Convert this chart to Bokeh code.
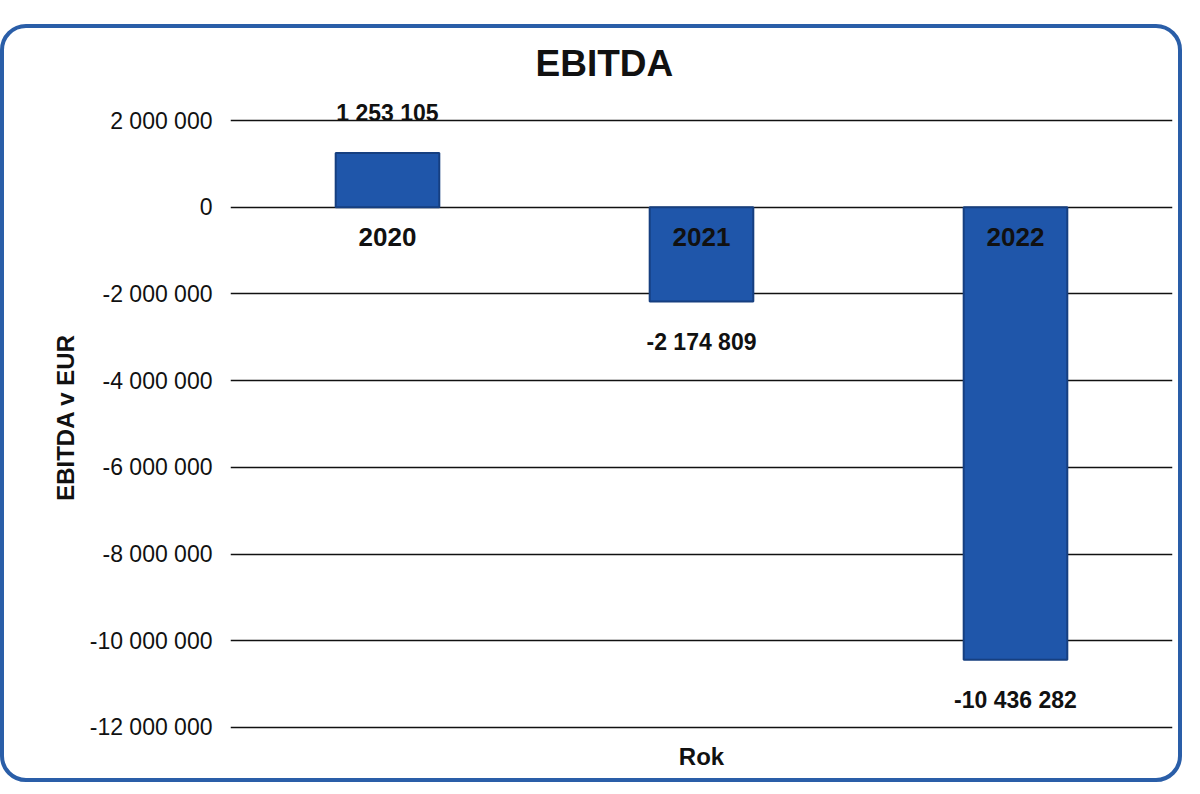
from bokeh.plotting import figure
from bokeh.models import ColumnDataSource, SingleIntervalTicker, CustomJSTickFormatter, LinearAxis, FixedTicker
from bokeh.embed import file_html
from bokeh.resources import INLINE
from bokeh.core.properties import value

years = ["2020", "2021", "2022"]
ebitda = [1253105, -2174809, -10436282]
value_labels = ["1 253 105", "-2 174 809", "-10 436 282"]

src = ColumnDataSource(dict(
    year=years, val=ebitda, zero=[0] * 3, vlab=value_labels,
    voff=[-40 if v > 0 else 40 for v in ebitda],
))

p = figure(x_range=years, y_range=(-12300000, 2600000), width=1182, height=758,
           output_backend="svg", toolbar_location=None, x_axis_type=None,
           min_border_left=226, min_border_right=14, min_border_top=66, min_border_bottom=46)
p.styles = {"border": "4px solid #2a5ea8", "border-radius": "26px", "margin-top": "24px",
            "background": "white"}
p.outline_line_color = None
p.background_fill_color = "white"
p.border_fill_color = None

p.title.text = "EBITDA"
p.title.align = "left"
p.title.offset = 305
p.title.text_font = "Liberation Sans"
p.title.text_font_style = "bold"
p.title.text_font_size = "37px"
p.title.text_color = "#111111"
p.title.standoff = 22

p.vbar(x="year", top="val", bottom="zero", width=0.33, source=src,
       fill_color="#1f56aa", line_color="#163f80", line_width=2)

p.text(x="year", y="zero", text="year", source=src, y_offset=30,
       text_align="center", text_baseline="middle", text_font=value("Liberation Sans"),
       text_font_style="bold", text_font_size="26px", text_color="#111111")
p.text(x="year", y="val", text="vlab", source=src, y_offset="voff",
       text_align="center", text_baseline="middle", text_font=value("Liberation Sans"),
       text_font_style="bold", text_font_size="23px", text_color="#111111")

p.yaxis.ticker = SingleIntervalTicker(interval=2000000)
p.yaxis.formatter = CustomJSTickFormatter(code="""
var s = Math.abs(tick).toFixed(0).replace(/\\B(?=(\\d{3})+(?!\\d))/g, ' ');
return (tick < 0 ? '-' : '') + s;
""")
p.yaxis.axis_line_color = None
p.yaxis.major_tick_line_color = None
p.yaxis.minor_tick_line_color = None
p.yaxis.major_tick_out = 0
p.yaxis.major_label_standoff = 14
p.yaxis.major_label_text_font = "Liberation Sans"
p.yaxis.major_label_text_font_size = "23px"
p.yaxis.major_label_text_color = "#111111"
p.yaxis.axis_label = "EBITDA v EUR"
p.yaxis.axis_label_text_font = "Liberation Sans"
p.yaxis.axis_label_text_font_style = "bold"
p.yaxis.axis_label_text_font_size = "24px"
p.yaxis.axis_label_text_color = "#111111"
p.yaxis.axis_label_standoff = 8

xa = LinearAxis(ticker=FixedTicker(ticks=[]), axis_label="Rok")
xa.axis_line_color = None
xa.major_tick_line_color = None
xa.minor_tick_line_color = None
xa.major_tick_out = 0
xa.major_label_standoff = 0
xa.axis_label_text_font = "Liberation Sans"
xa.axis_label_text_font_style = "bold"
xa.axis_label_text_font_size = "24px"
xa.axis_label_text_color = "#111111"
xa.axis_label_standoff = 2
p.add_layout(xa, "below")

p.xgrid.grid_line_color = None
p.ygrid.grid_line_color = "#111111"
p.ygrid.grid_line_width = 1.5

open("out.html", "w").write(file_html(p, INLINE))
